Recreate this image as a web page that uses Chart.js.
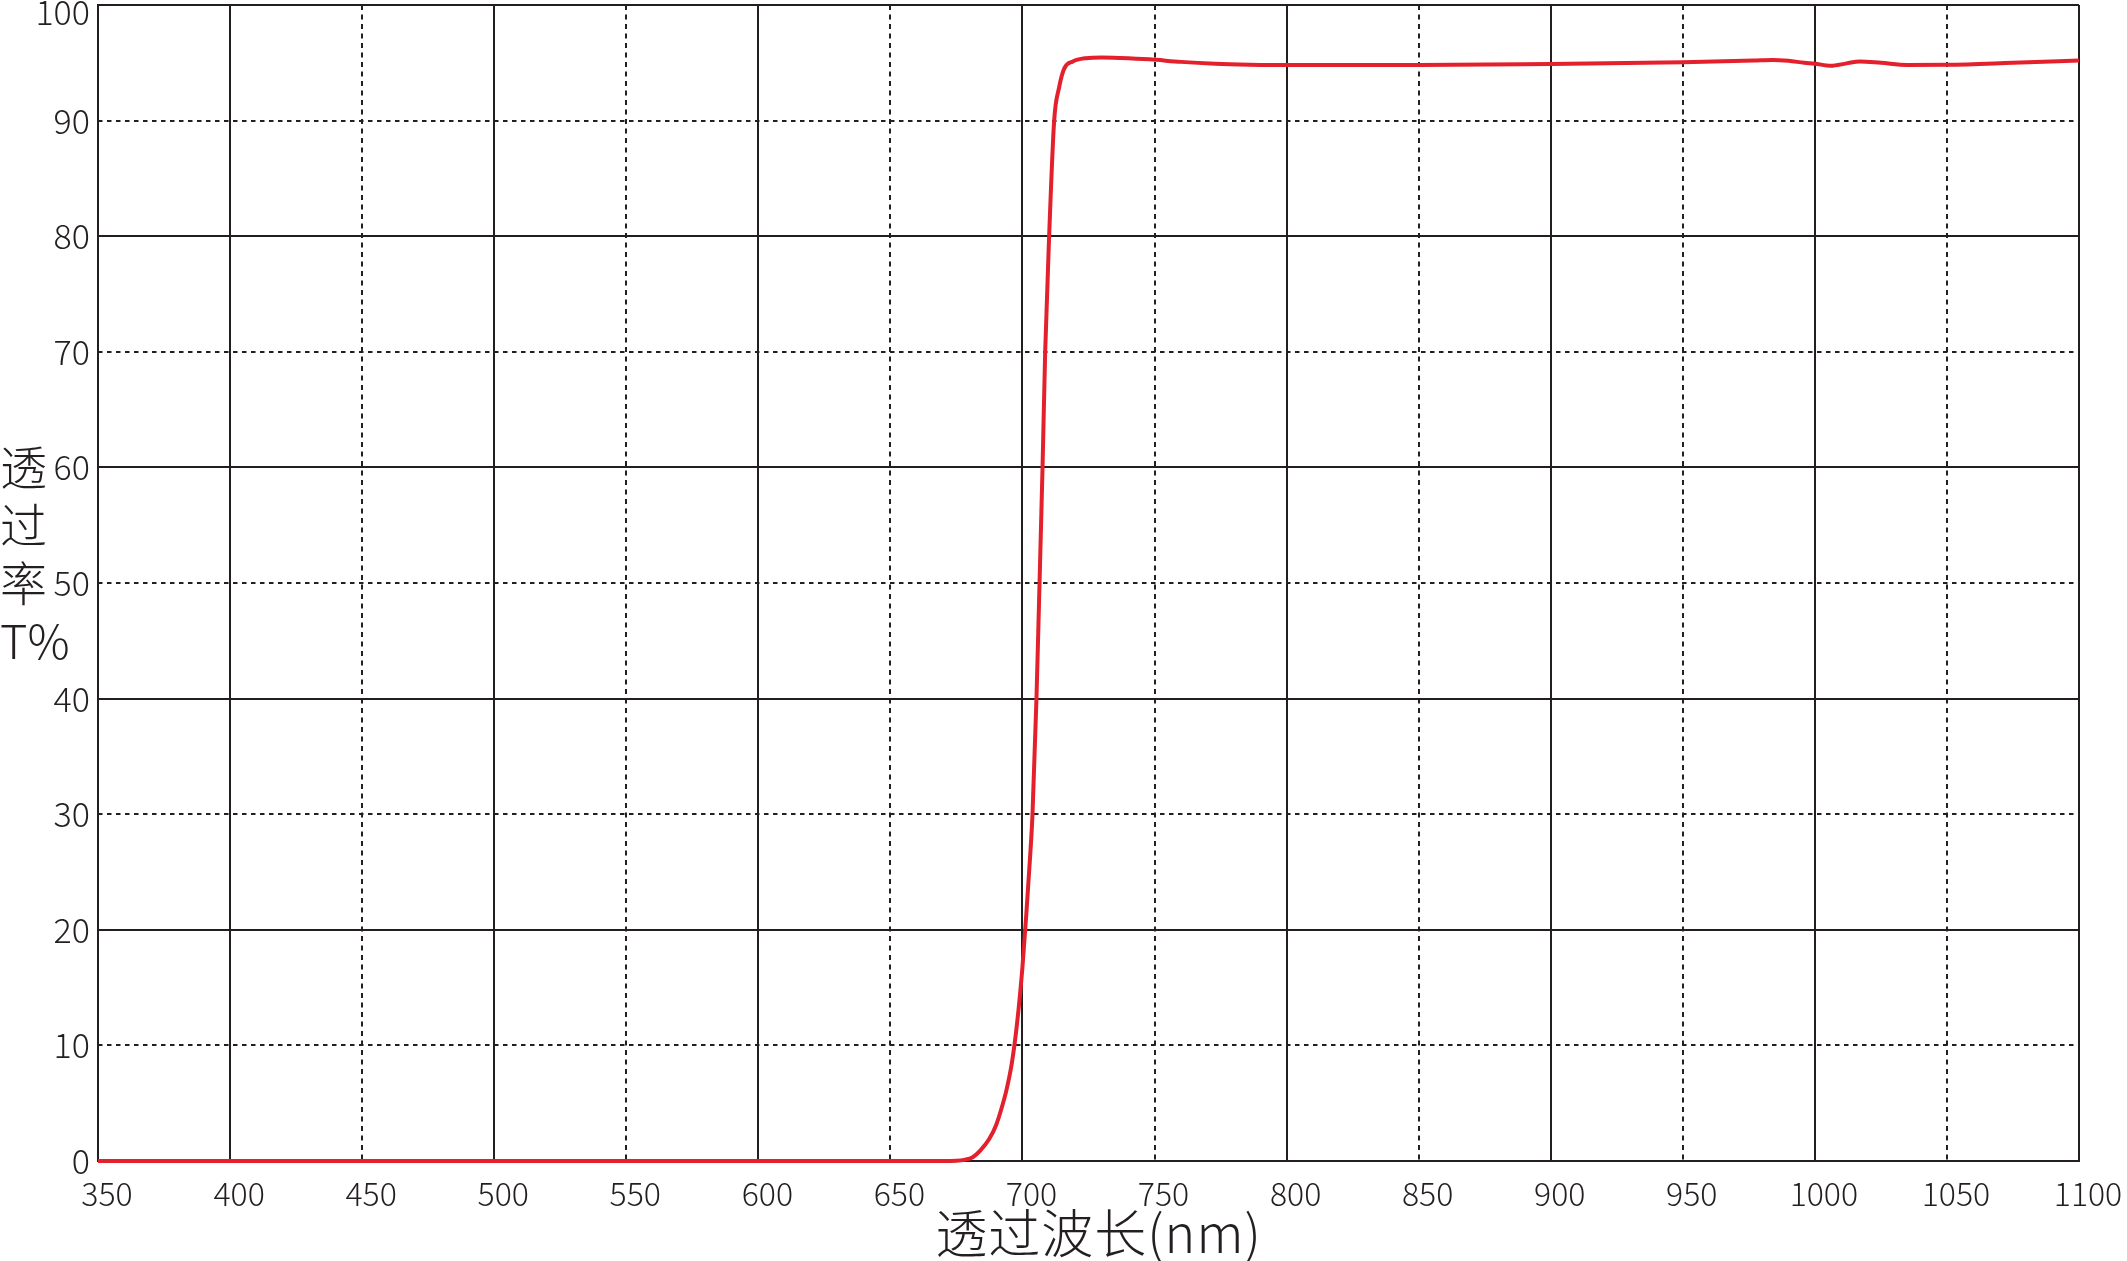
<!DOCTYPE html>
<html>
<head>
<meta charset="utf-8">
<script src="https://cdn.jsdelivr.net/npm/chart.js@4.4.1/dist/chart.umd.min.js"></script>
<style>
html,body{margin:0;padding:0;background:#ffffff;overflow:hidden;}
canvas{display:block;}
</style>
</head>
<body>
<canvas id="chart" width="2127" height="1261"></canvas>
<script>
// ---- data ----
const wavelengths = [350, 450, 550, 650, 670, 675, 678, 681, 684, 687.4, 690, 692, 694, 696, 698, 700, 701.5, 702.8, 703.8, 705.3, 706.3, 707.6, 708.6, 710.1, 712, 713.9, 715.8, 718.9, 724, 730, 737, 748, 760, 773, 786, 800, 825, 850, 900, 950, 977, 984, 990, 996, 1000, 1006, 1012, 1017, 1025, 1035, 1050, 1075, 1100];
const transmittance = [0, 0, 0, 0, 0, 0.02, 0.1, 0.3, 0.9, 1.9, 3.1, 4.5, 6.2, 8.5, 12, 16.8, 21.5, 26, 30, 40, 48.6, 60, 70, 80, 90, 92.9, 94.5, 95.1, 95.4, 95.46, 95.42, 95.3, 95.08, 94.92, 94.84, 94.8, 94.8, 94.8, 94.9, 95.05, 95.2, 95.25, 95.17, 95.0, 94.92, 94.74, 94.95, 95.12, 95.0, 94.82, 94.83, 95.0, 95.2];
const xTickValues = [350, 400, 450, 500, 550, 600, 650, 700, 750, 800, 850, 900, 950, 1000, 1050, 1100];
const yTickValues = [0, 10, 20, 30, 40, 50, 60, 70, 80, 90, 100];
const xTitle = '透过波长(nm)';
const yTitleLines = ['透', '过', '率', 'T%'];

// ---- styling ----
const FONT = "'Noto Sans CJK SC', 'Noto Sans', sans-serif";
const INK = '#231f20';
const CLEAR = 'rgba(0,0,0,0)';

const titlesPlugin = {
  id: 'titles',
  afterDraw(chart) {
    const ctx = chart.ctx;
    const a = chart.chartArea;
    ctx.save();
    ctx.fillStyle = INK;
    // x title
    ctx.font = "300 52px " + FONT;
    try { ctx.letterSpacing = '1px'; } catch (e) {}
    ctx.textAlign = 'center';
    ctx.textBaseline = 'middle';
    ctx.fillText(xTitle, (a.left + a.right) / 2 + 10, a.bottom + 72);
    try { ctx.letterSpacing = '0px'; } catch (e) {}
    // y title, stacked
    ctx.font = "300 47px " + FONT;
    ctx.textAlign = 'left';
    const mid = (a.top + a.bottom) / 2;
    yTitleLines.forEach((t, i) => {
      ctx.fillText(t, 0, mid - 116 + i * 58);
    });
    ctx.restore();
  }
};

const points = wavelengths.map((w, i) => ({ x: w, y: transmittance[i] }));
const topValue = yTickValues[yTickValues.length - 1];

new Chart(document.getElementById('chart').getContext('2d'), {
  type: 'line',
  data: {
    datasets: [{
      data: points,
      borderColor: '#e3202b',
      borderWidth: 4,
      pointRadius: 0,
      fill: false,
      cubicInterpolationMode: 'monotone',
      clip: 4
    }]
  },
  options: {
    responsive: false,
    animation: false,
    devicePixelRatio: 1,
    layout: { padding: { top: 5, right: 48, left: 0, bottom: 0 } },
    plugins: { legend: { display: false }, tooltip: { enabled: false } },
    scales: {
      x: {
        type: 'linear', position: 'bottom', min: 350, max: 1100,
        afterBuildTicks: s => { s.ticks = xTickValues.map(v => ({ value: v })); },
        afterFit: s => { s.height = 100; s.paddingLeft = 0; s.paddingRight = 0; },
        ticks: { autoSkip: false, maxRotation: 0, minRotation: 0, padding: 14, labelOffset: 9, color: INK,
                 font: { family: FONT, size: 32, weight: '300' }, callback: v => String(v) },
        grid: { drawTicks: false, lineWidth: 2,
                color: c => (c.tick && (c.tick.value % 100 === 0 || c.tick.value === 350)) ? INK : CLEAR },
        border: { display: true, color: INK, width: 2 }
      },
      xd: {
        type: 'linear', position: 'top', min: 350, max: 1100,
        afterBuildTicks: s => { s.ticks = xTickValues.map(v => ({ value: v })); },
        afterFit: s => { s.height = 0; s.paddingLeft = 0; s.paddingRight = 0; },
        ticks: { display: false },
        grid: { drawTicks: false, lineWidth: 2,
                color: c => (c.tick && c.tick.value % 100 === 50 && c.tick.value !== 350) ? INK : CLEAR },
        border: { display: false, dash: [5, 4.5] }
      },
      y: {
        type: 'linear', position: 'left', min: 0, max: 100,
        afterBuildTicks: s => { s.ticks = yTickValues.map(v => ({ value: v })); },
        afterFit: s => { s.width = 98; s.paddingTop = 0; s.paddingBottom = 0; },
        ticks: { padding: 8, color: INK,
                 font: c => ({ family: FONT, size: 34, weight: '300',
                               lineHeight: (c.tick && c.tick.value === topValue) ? '14px' : 1.2 }),
                 callback: v => v === topValue ? ['', String(v)] : String(v) },
        grid: { drawTicks: false, lineWidth: 2,
                color: c => (c.tick && c.tick.value % 20 === 0) ? INK : CLEAR },
        border: { display: true, color: INK, width: 2 }
      },
      yd: {
        type: 'linear', position: 'right', min: 0, max: 100,
        afterBuildTicks: s => { s.ticks = yTickValues.map(v => ({ value: v })); },
        afterFit: s => { s.width = 0; s.paddingTop = 0; s.paddingBottom = 0; },
        ticks: { display: false },
        grid: { drawTicks: false, lineWidth: 2,
                color: c => (c.tick && c.tick.value % 20 === 10) ? INK : CLEAR },
        border: { display: false, dash: [4.5, 4.5] }
      }
    }
  },
  plugins: [titlesPlugin]
});
</script>
</body>
</html>
